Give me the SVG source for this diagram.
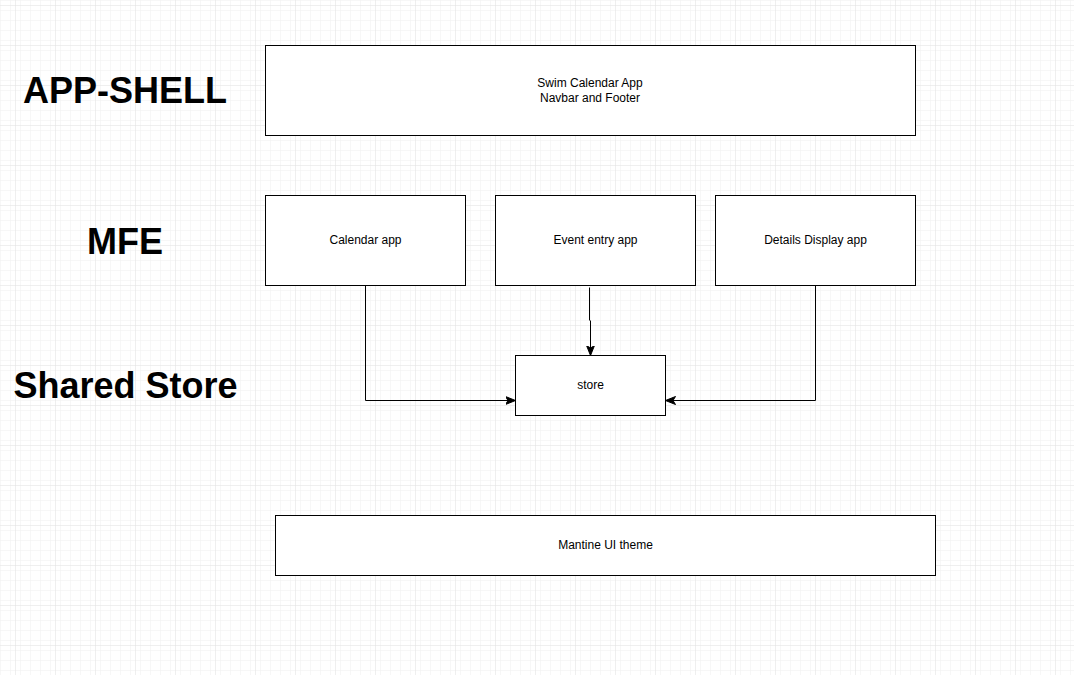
<svg xmlns="http://www.w3.org/2000/svg" width="1074" height="675" viewBox="0 0 1074 675">
  <defs>
    <pattern id="minor" width="10" height="10" patternUnits="userSpaceOnUse" x="5" y="5">
      <path d="M10 0H0V10" fill="none" stroke="#f0f0f0" stroke-width="1"/>
    </pattern>
    <pattern id="major" width="40" height="40" patternUnits="userSpaceOnUse" x="15" y="5">
      <rect width="40" height="40" fill="url(#minor)"/>
      <path d="M40 0H0V40" fill="none" stroke="#e0e0e0" stroke-width="1"/>
    </pattern>
    <marker id="arrow" viewBox="0 0 10 10" refX="9" refY="5" markerWidth="10" markerHeight="10" markerUnits="userSpaceOnUse" orient="auto">
      <path d="M0 1L10 5L0 9L2.5 5Z" fill="#000" stroke="#000" stroke-width="1"/>
    </marker>
  </defs>
  <style>
    .box { fill: #fff; stroke: #000; stroke-width: 1; }
    .t { font-family: "Liberation Sans", Arial, sans-serif; font-size: 12px; fill: #000; text-anchor: middle; }
    .h { font-family: "Liberation Sans", Arial, sans-serif; font-size: 36px; font-weight: bold; fill: #000; text-anchor: middle; }
    .edge { fill: none; stroke: #000; stroke-width: 1; marker-end: url(#arrow); }
  </style>
  <rect width="1074" height="675" fill="#fff"/>
  <rect width="1074" height="675" fill="url(#major)"/>

  <g id="labels">
    <text class="h" x="125" y="103">APP-SHELL</text>
    <text class="h" x="125" y="254">MFE</text>
    <text class="h" x="125.5" y="398">Shared Store</text>
  </g>

  <g id="app-shell">
    <rect class="box" x="265.5" y="45.5" width="650" height="90"/>
    <text class="t" x="590" y="87">Swim Calendar App</text>
    <text class="t" x="590" y="102">Navbar and Footer</text>
  </g>

  <g id="calendar-app">
    <rect class="box" x="265.5" y="195.5" width="200" height="90"/>
    <text class="t" x="365.5" y="244">Calendar app</text>
  </g>

  <g id="event-entry-app">
    <rect class="box" x="495.5" y="195.5" width="200" height="90"/>
    <text class="t" x="595.5" y="244">Event entry app</text>
  </g>

  <g id="details-display-app">
    <rect class="box" x="715.5" y="195.5" width="200" height="90"/>
    <text class="t" x="815.5" y="244">Details Display app</text>
  </g>

  <g id="store">
    <rect class="box" x="515.5" y="355.5" width="150" height="60"/>
    <text class="t" x="590.5" y="389">store</text>
  </g>

  <g id="mantine-ui-theme">
    <rect class="box" x="275.5" y="515.5" width="660" height="60"/>
    <text class="t" x="605.5" y="549">Mantine UI theme</text>
  </g>

  <g id="connectors">
    <path class="edge" d="M365.5 285.5V400.5H514.5"/>
    <path class="edge" d="M589.5 287.5V320L590.5 321V354.5"/>
    <path class="edge" d="M815.5 285.5V400.5H666.5"/>
  </g>
</svg>
